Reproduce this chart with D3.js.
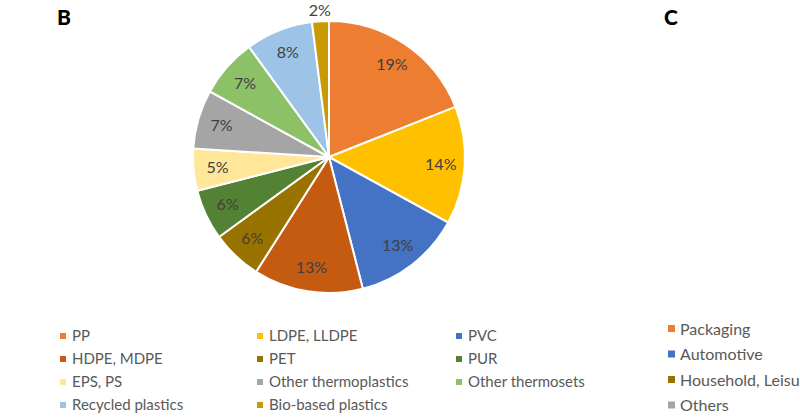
<!DOCTYPE html>
<html>
<head>
<meta charset="utf-8">
<script src="https://cdn.jsdelivr.net/npm/d3@7"></script>
<style>
  body { margin: 0; background: #fff; }
  svg { display: block; font-family: Lato, "Open Sans", sans-serif; }
</style>
</head>
<body>
<div id="main-container"></div>
<script>
var width = 800,
    height = 418

// plastics by type (panel B)
var types = ["PP", "LDPE, LLDPE", "PVC", "HDPE, MDPE", "PET", "PUR", "EPS, PS",
  "Other thermoplastics", "Other thermosets", "Recycled plastics", "Bio-based plastics"]
var shares = [19, 14, 13, 13, 6, 6, 5, 7, 7, 8, 2]
var typeColors = ["#ED7D31", "#FFC000", "#4472C4", "#C55A11", "#997300", "#548235",
  "#FFE699", "#A5A5A5", "#8CC168", "#9DC3E6", "#C99A06"]
// order used by the legend (3 columns, row by row)
var legendOrder = [0, 1, 2, 3, 4, 5, 6, 7, 8, 9, 10]

// panel C legend (only the legend is visible)
var sectors = ["Packaging", "Automotive", "Household, Leisure & Sports", "Others"]
var sectorColors = ["#ED7D31", "#4472C4", "#997300", "#A5A5A5"]

var svg = d3.select("#main-container").append("svg")
  .attr("width", width)
  .attr("height", height)

svg.append("text")
  .attr("x", 57).attr("y", 25)
  .attr("font-size", 21).attr("font-weight", 900)
  .text("B")

svg.append("text")
  .attr("x", 664).attr("y", 25)
  .attr("font-size", 21).attr("font-weight", 900)
  .text("C")

var cx = 329, cy = 157, radius = 136

var pie = d3.pie().sort(null).value(function(d){ return d })
var arcs = pie(shares)

var arc = d3.arc().innerRadius(0).outerRadius(radius)
var labelArc = d3.arc().innerRadius(112).outerRadius(112)
var outerLabelArc = d3.arc().innerRadius(147).outerRadius(147)

var g = svg.append("g")
  .attr("transform", "translate(" + cx + "," + cy + ")")

g.selectAll("path")
  .data(arcs)
  .enter()
  .append("path")
  .attr("d", arc)
  .attr("fill", function(d, i){ return typeColors[i] })
  .attr("stroke", "#fff")
  .attr("stroke-width", 2)

g.selectAll(".lbl")
  .data(arcs)
  .enter()
  .append("text")
  .attr("class", "lbl")
  .attr("transform", function(d){
    var c = d.data < 3 ? outerLabelArc.centroid(d) : labelArc.centroid(d)
    return "translate(" + c + ")"
  })
  .attr("text-anchor", "middle")
  .attr("dy", "0.35em")
  .attr("font-size", 16)
  .attr("fill", "#404040")
  .text(function(d){ return d.data + "%" })

// legend B
var colX = [60, 257, 456], rowY = [336, 359, 382, 405]
var leg = svg.selectAll(".legB")
  .data(legendOrder)
  .enter()
  .append("g")
  .attr("class", "legB")
  .attr("transform", function(d, i){
    return "translate(" + colX[i % 3] + "," + rowY[Math.floor(i / 3)] + ")"
  })
leg.append("rect")
  .attr("x", 0).attr("y", -3)
  .attr("width", 6).attr("height", 6)
  .attr("fill", function(d){ return typeColors[d] })
leg.append("text")
  .attr("x", 12).attr("dy", "0.35em")
  .attr("font-size", 15)
  .attr("fill", "#595959")
  .text(function(d){ return types[d] })

// legend C
var legC = svg.selectAll(".legC")
  .data(sectors)
  .enter()
  .append("g")
  .attr("class", "legC")
  .attr("transform", function(d, i){ return "translate(668," + (329 + i * 25.5) + ")" })
legC.append("rect")
  .attr("x", 0).attr("y", -4)
  .attr("width", 7).attr("height", 7)
  .attr("fill", function(d, i){ return sectorColors[i] })
legC.append("text")
  .attr("x", 12).attr("dy", "0.35em")
  .attr("font-size", 16)
  .attr("fill", "#595959")
  .text(function(d){ return d })
</script>
</body>
</html>
